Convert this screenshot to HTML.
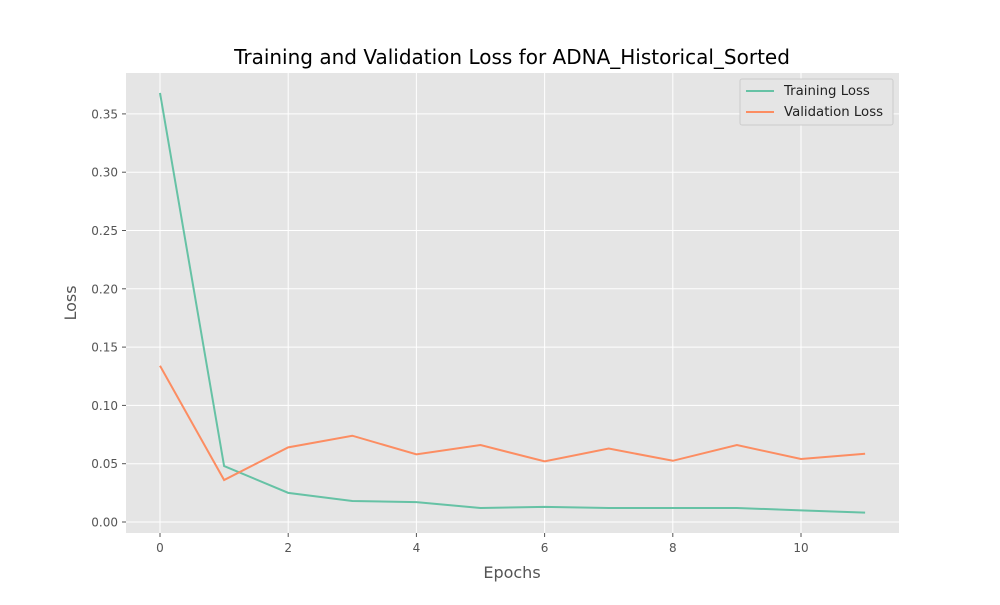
<!DOCTYPE html>
<html><head><meta charset="utf-8"><style>
body{margin:0;background:#fff;}
svg{font-family:"DejaVu Sans","Liberation Sans",sans-serif;}
</style></head><body>
<svg id="chart" width="1000" height="600">
<rect x="126" y="73" width="773" height="460" fill="#e5e5e5"/>
<g id="grid"></g><g id="ticks"></g><g id="series"></g>
<text x="512" y="64" text-anchor="middle" font-size="20" fill="#000">Training and Validation Loss for ADNA_Historical_Sorted</text>
<text x="512" y="578" text-anchor="middle" font-size="16" fill="#555">Epochs</text>
<text x="76" y="303" text-anchor="middle" font-size="16" fill="#555" transform="rotate(-90 76 303)">Loss</text>
<g>
<rect x="740" y="79" width="153" height="46" fill="#e5e5e5" stroke="#ccc" rx="2"/>
<line x1="746" y1="91" x2="774" y2="91" stroke="#66c2a5" stroke-width="2"/>
<text x="784" y="95" font-size="13.3" fill="#222">Training Loss</text>
<line x1="746" y1="112" x2="774" y2="112" stroke="#fc8d62" stroke-width="2"/>
<text x="784" y="116" font-size="13.3" fill="#222">Validation Loss</text>
</g>
</svg>
<script>
const epochs=[0,1,2,3,4,5,6,7,8,9,10,11];
const trainLoss=[0.368,0.048,0.025,0.018,0.017,0.012,0.013,0.012,0.012,0.012,0.010,0.008];
const valLoss=[0.134,0.036,0.064,0.074,0.058,0.066,0.052,0.063,0.0525,0.066,0.054,0.0585];
const xTicks=[0,2,4,6,8,10];
const yTicks=[0,0.05,0.10,0.15,0.20,0.25,0.30,0.35];
const NS="http://www.w3.org/2000/svg";
const xs=v=>160+v*64.1;
const ys=v=>522-v*1166;
function mk(t,a,p){const e=document.createElementNS(NS,t);for(const k in a)e.setAttribute(k,a[k]);p.appendChild(e);return e;}
const g=document.getElementById('grid'),tk=document.getElementById('ticks'),s=document.getElementById('series');
xTicks.forEach(v=>{
 const l=mk('line',{x1:xs(v),x2:xs(v),y1:73,y2:533,stroke:'#fff','stroke-width':1},g);
 
 
 mk('line',{x1:xs(v),x2:xs(v),y1:533,y2:537,stroke:'#555'},tk);
 const t=mk('text',{x:xs(v),y:552,'text-anchor':'middle','font-size':12,fill:'#555'},tk);
 t.textContent=v;
 
 
});
yTicks.forEach(v=>{
 const l=mk('line',{x1:126,x2:899,y1:ys(v),y2:ys(v),stroke:'#fff','stroke-width':1},g);
 
 
 mk('line',{x1:122,x2:126,y1:ys(v),y2:ys(v),stroke:'#555'},tk);
 const t=mk('text',{x:118,y:ys(v)+4.5,'text-anchor':'end','font-size':12,fill:'#555'},tk);
 t.textContent=v.toFixed(2);
 
 
});
function line(data,color,name){
 const p=mk('polyline',{points:data.map((v,i)=>xs(epochs[i])+','+ys(v)).join(' '),fill:'none',stroke:color,'stroke-width':2},s);
 
 
}
line(trainLoss,'#66c2a5','training-loss-line');
line(valLoss,'#fc8d62','validation-loss-line');
</script>
</body></html>
